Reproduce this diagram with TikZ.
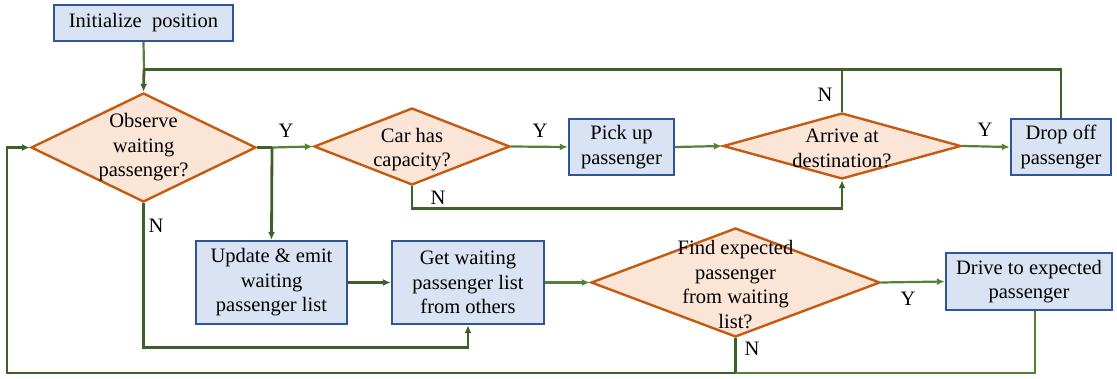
\documentclass[tikz,border=0pt]{standalone}
\usepackage{fontspec}
\setmainfont{Liberation Serif}
\usetikzlibrary{shapes.geometric,arrows.meta,calc}
\definecolor{boxfill}{HTML}{DAE3F3}
\definecolor{boxline}{HTML}{2F5597}
\definecolor{diafill}{HTML}{FBE5D6}
\definecolor{dialine}{HTML}{C55A11}
\definecolor{gdark}{HTML}{3D6128}
\definecolor{glight}{HTML}{548235}
\tikzset{
  procbox/.style={draw=boxline, fill=boxfill, line width=2.4pt, rectangle, inner sep=0pt, align=center},
  decis/.style={draw=dialine, fill=diafill, line width=2.4pt, diamond, inner sep=0pt, shape aspect=1},
  dtext/.style={align=center, inner sep=0pt},
  lbl/.style={inner sep=0pt},
  flow/.style={draw=gdark, line width=2.8pt},
  flowl/.style={draw=glight, line width=2.2pt},
  tip/.style={-{Latex[length=8pt,width=7pt]}},
}
\begin{document}
\begin{tikzpicture}[x=1pt,y=-1pt,font=\fontsize{20.5}{24.5}\selectfont]
\useasboundingbox (0,0) rectangle (1117,378);
% process boxes
\node[procbox, minimum width=179pt, minimum height=36pt] (init) at (143.5,23) {Initialize\ \ position};
\node[procbox, minimum width=105pt, minimum height=56pt] (pick) at (621.5,147) {Pick up\\passenger};
\node[procbox, minimum width=100pt, minimum height=56pt] (drop) at (1061,147) {Drop off\\passenger};
\node[procbox, minimum width=151pt, minimum height=83pt] (upd) at (271.5,282.5) {Update \& emit\\waiting\\passenger list};
\node[procbox, minimum width=152pt, minimum height=83pt] (get) at (468,282.5) {Get waiting\\passenger list\\from others};
\node[procbox, minimum width=166pt, minimum height=57pt] (drive) at (1029,281.5) {Drive to expected\\passenger};
% decisions
\node[decis, minimum width=225pt, minimum height=109pt] (d1) at (143.5,147.5) {};
\node[decis, minimum width=196pt, minimum height=77pt] (d2) at (412,146.5) {};
\node[decis, minimum width=238pt, minimum height=66pt] (d3) at (842,146) {};
\node[decis, minimum width=289pt, minimum height=109pt] (d4) at (735.5,282.5) {};
\node[dtext] (t1) at (d1) {Observe\\waiting\\passenger?};
\node[dtext] (t2) at ($(d2)+(0,3)$) {Car has\\capacity?};
\node[dtext] (t3) at ($(d3)+(0,2.5)$) {Arrive at\\destination?};
\node[dtext] (t4) at ($(d4)+(0,2)$) {Find expected\\passenger\\from waiting\\list?};
% junction coordinates
\coordinate (jtop) at (144,69.5);
\coordinate (jy) at (272,147.5);
\coordinate (jbot) at (735.5,373);
\coordinate (jleft) at (7,373);
% connectors
\draw[flowl] (init.south) -- (jtop);
\draw[flow,tip] (jtop) -- (d1.north);
\draw[flow] (drop.north) |- (jtop);
\draw[flow] (d3.north) -- (d3.north |- jtop);
\draw[flow] (d1.east) -- (jy);
\draw[flowl,tip] (jy) -- (d2.west);
\draw[flow,tip] (jy) -- (upd.north);
\draw[flowl,tip] (d2.east) -- (pick.west);
\draw[flowl,tip] (pick.east) -- (d3.west);
\draw[flowl,tip] (d3.east) -- (drop.west);
\draw[flow,tip] (d2.south) -- ++(0,22) -| (d3.south);
\draw[flow,tip] (d1.south) -- ++(0,144) -| (get.south);
\draw[flow,tip] (upd.east) -- (get.west);
\draw[flowl,tip] (get.east) -- (d4.west);
\draw[flowl,tip] (d4.east) -- (drive.west);
\draw[flow] (d4.south) -- (jbot);
\draw[flowl] ($(drive.south)+(6,0)$) |- (jbot);
\draw[flow,tip] (jbot) -- (jleft) |- (d1.west);
% labels
\node[lbl] (ly1) at (286,131) {Y};
\node[lbl] (ly2) at (540,131) {Y};
\node[lbl] (ly3) at (985,130) {Y};
\node[lbl] (ly4) at (908,299) {Y};
\node[lbl] (ln1) at (156,226) {N};
\node[lbl] (ln2) at (438,198) {N};
\node[lbl] (ln3) at (825,95) {N};
\node[lbl] (ln4) at (752,349) {N};
\end{tikzpicture}
\end{document}
